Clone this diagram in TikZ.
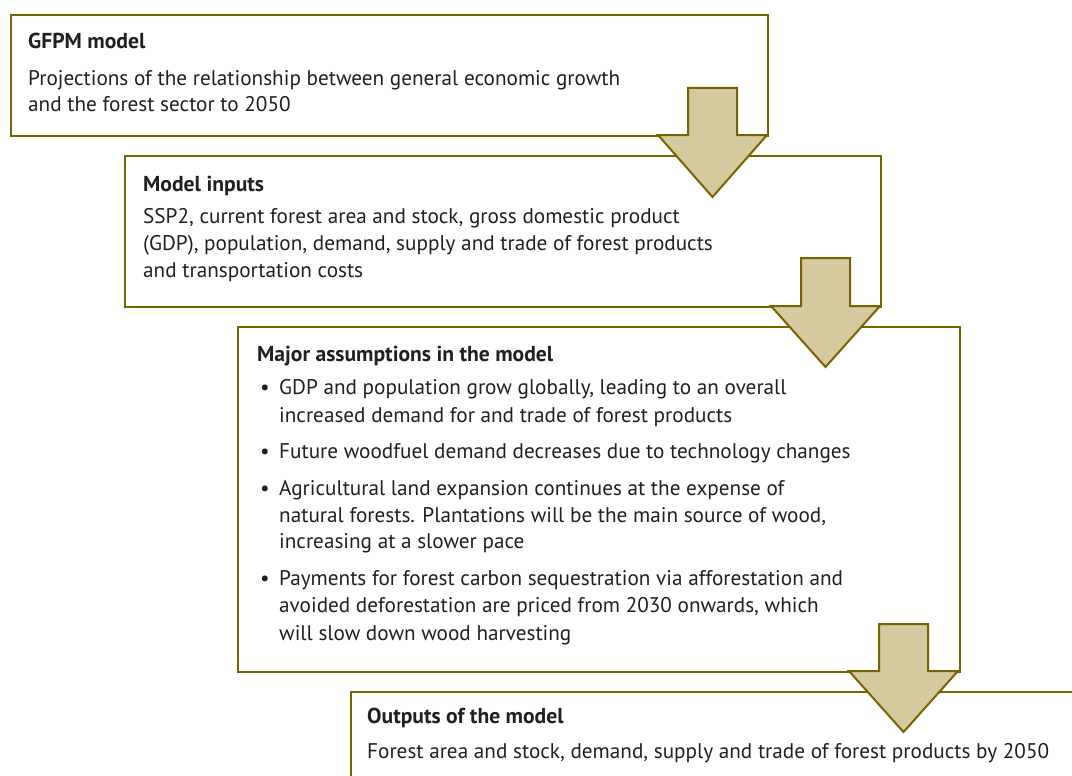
\documentclass[tikz,border=0pt]{standalone}
\usepackage{fontspec}
\setmainfont{PT Sans}
\usetikzlibrary{calc}
\definecolor{olive}{RGB}{122,98,0}
\definecolor{tan}{RGB}{213,201,160}
\definecolor{txt}{RGB}{35,31,32}
\tikzset{
  box/.style={draw=olive, line width=2pt, fill=white, rectangle, inner sep=0pt, anchor=north west},
  downarrow/.style={draw=olive, fill=tan, line width=2pt, line join=miter},
  ttl/.style={anchor=base west, inner sep=0pt, text=txt, font=\fontsize{21.6}{26}\selectfont\bfseries},
  txtl/.style={anchor=base west, inner sep=0pt, text=txt, font=\fontsize{21.2}{26}\selectfont},
}
\begin{document}
\begin{tikzpicture}[x=1pt,y=-1pt]
\useasboundingbox (0,0) rectangle (1072,776);
\clip (0,0) rectangle (1072,776);
% boxes
\node[box, minimum width=757pt, minimum height=121pt] (b1) at (10,14) {};
\node[box, minimum width=756pt, minimum height=151pt] (b2) at (124,155) {};
\node[box, minimum width=722pt, minimum height=345pt] (b3) at (237,326) {};
\node[box, minimum width=760pt, minimum height=120pt] (b4) at (350,691) {};
% arrows
\newcommand{\flowarrow}[4]{% right x of head, shoulder y, stem top y, tip y
  \draw[downarrow] (#1-79,#3) -- (#1-30,#3) -- (#1-30,#2) -- (#1,#2) -- (#1-54.5,#4)
    -- (#1-109,#2) -- (#1-79,#2) -- cycle;}
\flowarrow{767}{135}{88}{197}
\flowarrow{880}{306}{258}{367}
\flowarrow{958}{671}{624}{732}
% box 1 text
\node[ttl] (t1) at (28,49) {GFPM model};
\node[txtl] (t1a) at (28,85) {Projections of the relationship between general economic growth};
\node[txtl] (t1b) at (28,111) {and the forest sector to 2050};
% box 2 text
\node[ttl] (t2) at (143,191) {Model inputs};
\node[txtl] (t2a) at (143,223) {SSP2, current forest area and stock, gross domestic product};
\node[txtl] (t2b) at (143,250) {(GDP), population, demand, supply and trade of forest products};
\node[txtl] (t2c) at (143,277) {and transportation costs};
% box 3 text
\node[ttl] (t3) at (257,361) {Major assumptions in the model};
\node[txtl] (m1) at (260,394) {•};
\node[txtl] (l1) at (279,394) {GDP and population grow globally, leading to an overall};
\node[txtl] (l2) at (279,422) {increased demand for and trade of forest products};
\node[txtl] (m2) at (260,458) {•};
\node[txtl] (l3) at (279,458) {Future woodfuel demand decreases due to technology changes};
\node[txtl] (m3) at (260,495) {•};
\node[txtl] (l4) at (279,495) {Agricultural land expansion continues at the expense of};
\node[txtl] (l5) at (279,522) {natural forests. Plantations will be the main source of wood,};
\node[txtl] (l6) at (279,548) {increasing at a slower pace};
\node[txtl] (m4) at (260,585) {•};
\node[txtl] (l7) at (279,585) {Payments for forest carbon sequestration via afforestation and};
\node[txtl] (l8) at (279,612) {avoided deforestation are priced from 2030 onwards, which};
\node[txtl] (l9) at (279,640) {will slow down wood harvesting};
% box 4 text
\node[ttl] (t4) at (367,723) {Outputs of the model};
\node[txtl] (t4a) at (367,758) {Forest area and stock, demand, supply and trade of forest products by 2050};
\end{tikzpicture}
\end{document}
